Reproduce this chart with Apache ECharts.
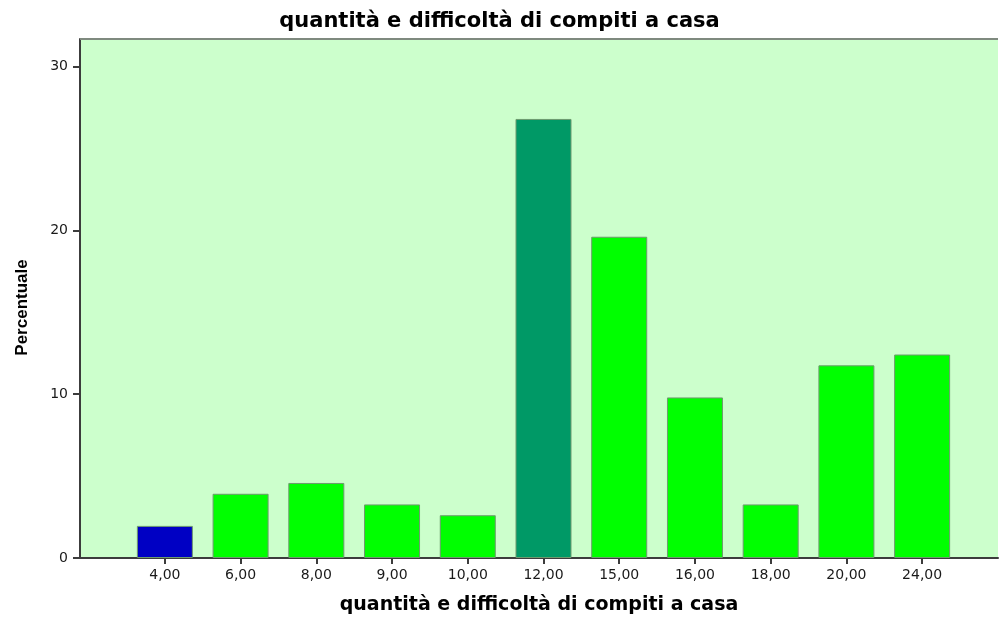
<!DOCTYPE html>
<html>
<head>
<meta charset="utf-8">
<script src="https://cdn.jsdelivr.net/npm/echarts@6/dist/echarts.min.js"></script>
<style>html,body{margin:0;padding:0;background:#fff}#c{width:999px;height:617px}</style>
</head>
<body>
<div id="c"></div>
<script>
const categories = ['4,00','6,00','8,00','9,00','10,00','12,00','15,00','16,00','18,00','20,00','24,00'];
const percentuale = [1.96, 3.92, 4.58, 3.27, 2.61, 26.80, 19.61, 9.80, 3.27, 11.76, 12.42];
const barColors = ['#0000c4','#00ff00','#00ff00','#00ff00','#00ff00','#009966','#00ff00','#00ff00','#00ff00','#00ff00','#00ff00'];
const yTicks = [0, 10, 20, 30];

const chart = echarts.init(document.getElementById('c'), null, {renderer:'canvas'});
const font = '"DejaVu Sans", Verdana, sans-serif';
const yMax = 31.68;
chart.setOption({
  animation: false,
  backgroundColor: '#ffffff',
  title: {
    text: 'quantità e difficoltà di compiti a casa',
    left: 'center', top: 6,
    textStyle: {fontFamily: font, fontWeight: 'bold', fontSize: 21, color: '#000'}
  },
  grid: [
    {left: 80, right: 1, top: 39, bottom: 59, show: true, backgroundColor: '#ccffcc', borderWidth: 0, outerBoundsMode: 'none', containLabel: false},
    {left: 127, right: 39, top: 39, bottom: 59, outerBoundsMode: 'none', containLabel: false}
  ],
  xAxis: [
    {
      gridIndex: 0, type: 'category', data: [''],
      name: 'quantità e difficoltà di compiti a casa', nameLocation: 'middle', nameGap: 38,
      nameTextStyle: {fontFamily: font, fontWeight: 'bold', fontSize: 19, color: '#000'},
      axisLine: {show: true, lineStyle: {color: '#3c3c3c', width: 2}},
      axisTick: {show: false}, axisLabel: {show: false}, splitLine: {show: false}
    },
    {
      gridIndex: 1, type: 'category', data: categories,
      axisLine: {show: false},
      axisTick: {show: true, alignWithLabel: true, length: 6, lineStyle: {color: '#3c3c3c', width: 2}},
      axisLabel: {fontFamily: font, fontSize: 14, color: '#1a1a1a', margin: 10},
      splitLine: {show: false}
    }
  ],
  yAxis: [
    {
      gridIndex: 0, type: 'value', min: 0, max: yMax, interval: 10,
      name: 'Percentuale', nameLocation: 'middle', nameGap: 49, nameRotate: 90,
      nameTextStyle: {fontFamily: '"Liberation Sans Narrow", "Liberation Sans", Arial, sans-serif', fontWeight: 'bold', fontSize: 17, color: '#000', padding: [0, 18, 0, 0]},
      axisLine: {show: true, lineStyle: {color: '#3c3c3c', width: 2}},
      axisTick: {show: true, length: 7, customValues: yTicks, lineStyle: {color: '#3c3c3c', width: 2}},
      axisLabel: {fontFamily: font, fontSize: 14, color: '#1a1a1a', margin: 12, customValues: yTicks},
      splitLine: {show: false}
    },
    {
      gridIndex: 1, type: 'value', min: 0, max: yMax, interval: 10, show: false
    }
  ],
  series: [
    {
      type: 'line', xAxisIndex: 0, yAxisIndex: 0, data: [], silent: true,
      markLine: {silent: true, symbol: 'none', label: {show: false},
        lineStyle: {color: '#7f8a7f', width: 2, type: 'solid'},
        data: [{yAxis: yMax}]}
    },
    {
      type: 'bar', xAxisIndex: 1, yAxisIndex: 1, barWidth: 56,
      data: percentuale.map((v, i) => ({value: v, itemStyle: {color: barColors[i]}})),
      itemStyle: {borderColor: '#6e9a6e', borderWidth: 1}
    }
  ]
});
</script>
</body>
</html>
